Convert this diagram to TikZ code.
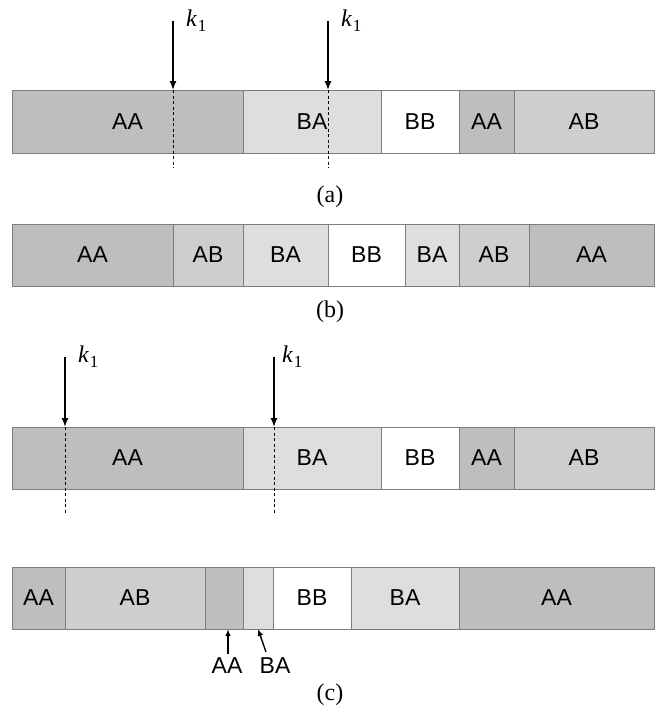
\documentclass[tikz,border=0pt]{standalone}
\usepackage{fontspec}
\setmainfont{Liberation Serif}
\setsansfont{Liberation Sans}
\usetikzlibrary{arrows.meta}
\definecolor{dk}{RGB}{190,190,190}
\definecolor{md}{RGB}{206,206,206}
\definecolor{lt}{RGB}{222,222,222}
\definecolor{edge}{RGB}{125,125,125}
\newcommand\segm[7]{\node[segbox, fill=#5, minimum width={(#3-#2)*1pt}, minimum height=#7] (#1) at (#2,#4) {#6};}
\newcommand\kone{\fontsize{24}{24}\selectfont\itshape k\kern1pt\raisebox{-5pt}{\upshape\fontsize{17}{17}\selectfont 1}}
\tikzset{
  segbox/.style={draw=edge, line width=0.9pt, anchor=north west, inner sep=0pt, outer sep=0pt,
    font=\sffamily\fontsize{23}{23}\selectfont},
  captext/.style={font=\fontsize{24}{24}\selectfont},
  klab/.style={anchor=base west, inner sep=0pt},
  karrow/.style={-{Latex[length=9pt,width=7pt]}, line width=1.4pt},
  dsh/.style={line width=1pt, dash pattern=on 3pt off 2.5pt},
  smallarr/.style={-{Latex[length=7pt,width=5.5pt]}, line width=1.4pt},
  blab/.style={inner sep=0pt, font=\sffamily\fontsize{23}{23}\selectfont}
}
\begin{document}
\begin{tikzpicture}[x=1pt,y=-1pt]
\useasboundingbox (0,0) rectangle (655,710);
% (a)
\segm{a1}{12}{243}{90}{dk}{AA}{63pt}
\segm{a2}{243}{381}{90}{lt}{BA}{63pt}
\segm{a3}{381}{459}{90}{white}{BB}{63pt}
\segm{a4}{459}{514}{90}{dk}{AA}{63pt}
\segm{a5}{514}{654}{90}{md}{AB}{63pt}
\coordinate (ka1s) at (173,21);
\coordinate (ka1) at (173,90);
\coordinate (ka1e) at (173,168);
\coordinate (ka2s) at (328,21);
\coordinate (ka2) at (328,90);
\coordinate (ka2e) at (328,168);
\draw[karrow] (ka1s) -- (ka1);
\draw[karrow] (ka2s) -- (ka2);
\draw[dsh] (ka1) -- (ka1e);
\draw[dsh] (ka2) -- (ka2e);
\node[klab] (kl1) at (186,26) {\kone};
\node[klab] (kl2) at (341,26) {\kone};
\node[captext] (capa) at (330,197) {(a)};
% (b)
\segm{b1}{12}{173}{224}{dk}{AA}{62pt}
\segm{b2}{173}{243}{224}{md}{AB}{62pt}
\segm{b3}{243}{328}{224}{lt}{BA}{62pt}
\segm{b4}{328}{405}{224}{white}{BB}{62pt}
\segm{b5}{405}{459}{224}{lt}{BA}{62pt}
\segm{b6}{459}{529}{224}{md}{AB}{62pt}
\segm{b7}{529}{654}{224}{dk}{AA}{62pt}
\node[captext] (capb) at (330,312) {(b)};
% (c) upper
\segm{c1}{12}{243}{427}{dk}{AA}{62pt}
\segm{c2}{243}{381}{427}{lt}{BA}{62pt}
\segm{c3}{381}{459}{427}{white}{BB}{62pt}
\segm{c4}{459}{514}{427}{dk}{AA}{62pt}
\segm{c5}{514}{654}{427}{md}{AB}{62pt}
\coordinate (kc1s) at (65,357);
\coordinate (kc1) at (65,427);
\coordinate (kc1e) at (65,514);
\coordinate (kc2s) at (274,357);
\coordinate (kc2) at (274,427);
\coordinate (kc2e) at (274,514);
\draw[karrow] (kc1s) -- (kc1);
\draw[karrow] (kc2s) -- (kc2);
\draw[dsh] (kc1) -- (kc1e);
\draw[dsh] (kc2) -- (kc2e);
\node[klab] (kl3) at (78,362) {\kone};
\node[klab] (kl4) at (282,362) {\kone};
% (c) lower
\segm{d1}{12}{65}{567}{dk}{AA}{62pt}
\segm{d2}{65}{205}{567}{md}{AB}{62pt}
\segm{d3}{205}{243}{567}{dk}{}{62pt}
\segm{d4}{243}{273}{567}{lt}{}{62pt}
\segm{d5}{273}{351}{567}{white}{BB}{62pt}
\segm{d6}{351}{459}{567}{lt}{BA}{62pt}
\segm{d7}{459}{654}{567}{dk}{AA}{62pt}
\node[blab] (laa) at (227,666) {AA};
\node[blab] (lba) at (275,666) {BA};
\coordinate (aas) at (228,654);
\coordinate (aat) at (228,629);
\coordinate (bas) at (266,652);
\coordinate (bat) at (258,629);
\draw[smallarr] (aas) -- (aat);
\draw[smallarr] (bas) -- (bat);
\node[captext] (capc) at (330,695) {(c)};
\end{tikzpicture}
\end{document}
